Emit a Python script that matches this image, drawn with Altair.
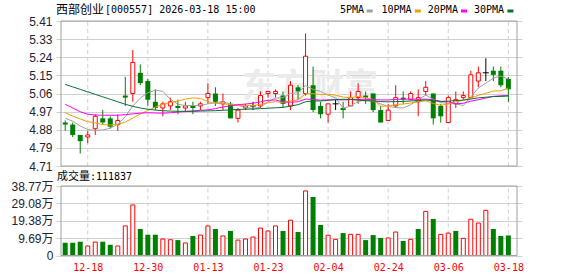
import json
import altair as alt
import pandas as pd

# ---------------- data ----------------
stock_name = "西部创业"
stock_header = "[000557] 2026-03-18 15:00"

dates = ["12-15", "12-16", "12-17", "12-18", "12-19", "12-22", "12-23", "12-24", "12-25", "12-26",
         "12-29", "12-30", "12-31", "01-05", "01-06", "01-07", "01-08", "01-09", "01-12", "01-13",
         "01-14", "01-15", "01-16", "01-19", "01-20", "01-21", "01-22", "01-23", "01-26", "01-27",
         "01-28", "01-29", "01-30", "02-02", "02-03", "02-04", "02-05", "02-06", "02-09", "02-10",
         "02-11", "02-12", "02-13", "02-24", "02-25", "02-26", "02-27", "03-02", "03-03", "03-04",
         "03-05", "03-06", "03-09", "03-10", "03-11", "03-12", "03-13", "03-16", "03-17", "03-18"]

opens = [4.92, 4.91, 4.86, 4.85, 4.89, 4.94, 4.94, 4.91, 5.05, 5.06,
         5.16, 5.12, 5.02, 4.99, 5.00, 5.00, 4.99, 5.00, 5.00, 5.04,
         5.06, 5.01, 5.01, 4.94, 4.99, 5.00, 5.00, 5.06, 5.06, 5.05,
         5.00, 5.09, 5.06, 5.10, 5.00, 4.96, 5.01, 4.99, 5.00, 5.04,
         5.05, 5.06, 4.98, 4.93, 5.00, 5.04, 5.03, 5.02, 5.07, 5.06,
         5.00, 4.92, 5.01, 5.04, 5.04, 5.12, 5.16, 5.17, 5.17, 5.13]
highs = [4.93, 4.92, 4.86, 4.88, 4.96, 4.98, 4.95, 4.96, 5.14, 5.27,
         5.20, 5.13, 5.08, 5.02, 5.04, 5.03, 5.02, 5.02, 5.02, 5.11,
         5.09, 5.06, 5.02, 4.99, 5.01, 5.02, 5.07, 5.07, 5.08, 5.07,
         5.12, 5.10, 5.35, 5.19, 5.02, 5.01, 5.03, 5.02, 5.07, 5.11,
         5.07, 5.06, 5.00, 5.01, 5.10, 5.07, 5.07, 5.08, 5.12, 5.06,
         5.01, 5.05, 5.07, 5.07, 5.17, 5.19, 5.23, 5.19, 5.19, 5.14]
lows = [4.88, 4.85, 4.77, 4.82, 4.86, 4.91, 4.89, 4.88, 5.00, 5.02,
        5.10, 5.00, 4.98, 4.95, 4.98, 4.96, 4.97, 4.96, 4.98, 5.01,
        5.00, 4.98, 4.94, 4.92, 4.98, 4.98, 4.99, 5.04, 5.04, 4.99,
        4.98, 5.03, 5.05, 4.97, 4.94, 4.92, 4.98, 4.94, 5.00, 5.01,
        5.01, 4.97, 4.92, 4.93, 4.99, 5.01, 5.03, 4.95, 5.05, 4.91,
        4.92, 4.92, 4.99, 5.03, 5.04, 5.09, 5.12, 5.12, 5.09, 5.02]
closes = [4.91, 4.86, 4.83, 4.86, 4.95, 4.92, 4.90, 4.93, 5.04, 5.21,
          5.11, 5.03, 4.99, 5.01, 5.02, 4.99, 5.00, 4.99, 5.01, 5.06,
          5.02, 5.02, 4.94, 4.98, 5.00, 5.00, 5.05, 5.07, 5.07, 5.01,
          5.10, 5.07, 5.24, 4.98, 4.96, 5.01, 5.01, 4.98, 5.04, 5.07,
          5.04, 4.98, 4.92, 4.98, 5.04, 5.03, 5.06, 5.04, 5.09, 4.94,
          4.95, 5.04, 5.03, 5.05, 5.15, 5.16, 5.16, 5.15, 5.10, 5.08]
# volume in 万手
volumes = [7.1, 7.1, 7.7, 5.3, 7.5, 7.7, 6.0, 5.3, 16.5, 28.2,
           14.8, 11.6, 11.6, 9.2, 8.8, 8.6, 7.0, 10.9, 11.4, 16.5,
           14.8, 10.9, 13.7, 8.6, 9.2, 10.3, 15.3, 13.7, 16.5, 13.7,
           19.7, 13.1, 36.0, 32.6, 17.0, 11.3, 9.0, 12.5, 11.8, 11.8,
           8.6, 11.4, 9.8, 9.8, 13.1, 8.1, 9.0, 14.8, 24.6, 20.4,
           11.8, 12.5, 13.7, 9.6, 20.2, 18.1, 25.2, 14.8, 10.9, 11.1837]

ma5 = [4.940, 4.927, 4.903, 4.886, 4.882, 4.884, 4.892, 4.912, 4.948, 5.000,
       5.038, 5.064, 5.076, 5.070, 5.032, 5.008, 5.002, 5.002, 5.002, 5.010,
       5.016, 5.020, 5.010, 5.004, 4.992, 4.988, 4.994, 5.020, 5.038, 5.040,
       5.060, 5.064, 5.098, 5.080, 5.070, 5.052, 5.040, 4.988, 5.000, 5.022,
       5.028, 5.022, 5.010, 4.998, 4.992, 4.990, 5.006, 5.030, 5.052, 5.032,
       5.016, 5.012, 5.010, 5.002, 5.044, 5.086, 5.110, 5.134, 5.144, 5.130]
ma10 = [4.967, 4.951, 4.937, 4.924, 4.918, 4.910, 4.908, 4.911, 4.922, 4.941,
        4.961, 4.978, 4.994, 5.009, 5.016, 5.023, 5.033, 5.039, 5.036, 5.021,
        5.012, 5.011, 5.006, 5.003, 5.001, 5.002, 5.007, 5.015, 5.021, 5.016,
        5.024, 5.029, 5.059, 5.059, 5.055, 5.056, 5.052, 5.043, 5.040, 5.046,
        5.040, 5.031, 4.999, 4.999, 5.007, 5.009, 5.014, 5.020, 5.025, 5.012,
        5.003, 5.009, 5.020, 5.027, 5.038, 5.051, 5.061, 5.072, 5.073, 5.087]
ma20 = [5.008, 4.990, 4.972, 4.960, 4.956, 4.955, 4.955, 4.955, 4.958, 4.962,
        4.965, 4.967, 4.966, 4.965, 4.967, 4.970, 4.973, 4.976, 4.979, 4.981,
        4.987, 4.995, 5.000, 5.006, 5.009, 5.013, 5.020, 5.027, 5.029, 5.019,
        5.018, 5.020, 5.033, 5.031, 5.028, 5.029, 5.030, 5.029, 5.031, 5.031,
        5.032, 5.030, 5.029, 5.029, 5.031, 5.033, 5.033, 5.032, 5.033, 5.029,
        5.022, 5.020, 5.010, 5.013, 5.023, 5.030, 5.038, 5.046, 5.049, 5.050]
ma30 = [5.104, 5.092, 5.080, 5.068, 5.056, 5.044, 5.032, 5.020, 5.008, 4.998,
        4.990, 4.984, 4.980, 4.977, 4.975, 4.974, 4.974, 4.974, 4.975, 4.976,
        4.977, 4.979, 4.981, 4.983, 4.984, 4.985, 4.987, 4.989, 4.991, 4.993,
        4.999, 5.006, 5.020, 5.024, 5.024, 5.027, 5.031, 5.032, 5.032, 5.028,
        5.025, 5.024, 5.021, 5.020, 5.021, 5.022, 5.024, 5.026, 5.029, 5.025,
        5.022, 5.023, 5.026, 5.028, 5.033, 5.039, 5.042, 5.045, 5.046, 5.048]

ma_names = ["5PMA", "10PMA", "20PMA", "30PMA"]
ma_colors = ["#a0a0a0", "#f0a000", "#ff00ff", "#0a6e3a"]

price_ticks = [4.71, 4.7975, 4.885, 4.9725, 5.06, 5.1475, 5.235, 5.3225, 5.41]
price_tick_labels = ["4.71", "4.79", "4.88", "4.97", "5.06", "5.15", "5.24", "5.33", "5.41"]
vol_ticks = [0, 9.6925, 19.385, 29.0775, 38.77]
vol_tick_labels = ["0", "9.69万", "19.38万", "29.08万", "38.77万"]
date_label_idx = [3, 11, 19, 27, 35, 43, 51, 59]

# ---------------- styling / layout ----------------
RED, GREEN, BLACK = "#ff0000", "#008000", "#000000"
GRID, FRAME = "#d0d0d0", "#a0a0a0"
MONO = "DejaVu Sans Mono"
CJK = "Noto Sans CJK SC"
SANS = "Liberation Sans, Noto Sans CJK SC"

X_DOMAIN = [-0.56, 60.15]
P_DOMAIN = [price_ticks[0], price_ticks[-1]]
V_DOMAIN = [vol_ticks[0], vol_ticks[-1]]
P_RANGE = [145, 0]
V_RANGE = [234.5, 165]

n = len(closes)
prev_close = [opens[0]] + closes[:-1]
df = pd.DataFrame({
    "i": list(range(n)), "date": dates, "open": opens, "high": highs,
    "low": lows, "close": closes, "vol": volumes,
    "vdir": ["up" if c >= p else "down" for c, p in zip(closes, prev_close)],
})
ma_df = pd.concat([
    pd.DataFrame({"i": list(range(n)), "ma": name, "value": vals})
    for name, vals in zip(ma_names, [ma5, ma10, ma20, ma30])
])

xs = alt.Scale(domain=X_DOMAIN, nice=False, zero=False)
ps = alt.Scale(domain=P_DOMAIN, range=P_RANGE, nice=False, zero=False)
vs = alt.Scale(domain=V_DOMAIN, range=V_RANGE, nice=False, zero=False)

step_p = (price_ticks[-1] - price_ticks[0]) / (len(price_ticks) - 1)
price_axis = alt.Axis(
    values=price_ticks, orient="left", title=None, domain=False, ticks=False,
    grid=True, gridColor=GRID, gridWidth=1, labelPadding=4, labelFlush=False,
    labelOverlap=False, labelFont=SANS, labelFontSize=12, labelColor="#222233",
    labelExpr=f"{json.dumps(price_tick_labels)}[round((datum.value - {price_ticks[0]}) / {step_p})]",
)
step_v = (vol_ticks[-1] - vol_ticks[0]) / (len(vol_ticks) - 1)
vol_axis = alt.Axis(
    values=vol_ticks, orient="left", title=None, domain=False, ticks=False,
    grid=True, gridColor=GRID, gridWidth=1, labelPadding=3, labelFlush=False,
    labelOverlap=False, labelFont=SANS, labelFontSize=12, labelColor="#222233",
    labelExpr=f"{json.dumps(vol_tick_labels, ensure_ascii=False)}[round(datum.value / {step_v})]",
)
x_axis = alt.Axis(
    values=date_label_idx, orient="bottom", title=None, domain=False, ticks=False, grid=False,
    labelPadding=6, labelFlush=False, labelOverlap=False, labelFont=MONO,
    labelFontSize=10, labelColor=RED,
    labelExpr=f"{json.dumps(dates)}[datum.value]",
)


def X(field="i"):
    return alt.X(f"{field}:Q", scale=xs, axis=x_axis)


def PY(field):
    return alt.Y(f"{field}:Q", scale=ps, axis=price_axis)


def VY(field):
    return alt.Y(f"{field}:Q", scale=vs, axis=vol_axis)


base = alt.Chart(df)
grid_df = pd.DataFrame({"i": date_label_idx,
                        "p0": P_DOMAIN[0], "p1": P_DOMAIN[1],
                        "v0": V_DOMAIN[0], "v1": V_DOMAIN[1]})
frame_df = pd.DataFrame({"x0": [X_DOMAIN[0]], "x1": [X_DOMAIN[1]],
                         "p0": [P_DOMAIN[0]], "p1": [P_DOMAIN[1]],
                         "v0": [V_DOMAIN[0]], "v1": [V_DOMAIN[1]]})

# ---------------- price panel ----------------
p_layers = []
p_layers.append(
    alt.Chart(grid_df).mark_rule(color=GRID, strokeDash=[4, 3], strokeWidth=1).encode(
        x=X(), y=PY("p0"), y2="p1:Q")
)
p_layers.append(
    alt.Chart(pd.DataFrame({"t": ["东方财富"]})).mark_text(
        fontSize=34, font=CJK, fontWeight="bold", color="#ebebeb", align="center", baseline="middle"
    ).encode(x=alt.value(254), y=alt.value(67), text="t:N")
)
for cond, col in [("datum.close > datum.open", RED), ("datum.close < datum.open", GREEN),
                  ("datum.close == datum.open", BLACK)]:
    p_layers.append(base.transform_filter(cond).mark_rule(color=col, strokeWidth=1).encode(
        x=X(), y=PY("low"), y2="high:Q"))
p_layers.append(base.transform_filter("datum.close < datum.open").mark_bar(size=5, color=GREEN).encode(
    x=X(), y=PY("open"), y2="close:Q"))
p_layers.append(base.transform_filter("datum.close > datum.open").mark_bar(
    size=4, fill="white", stroke=RED, strokeWidth=1).encode(
    x=X(), y=PY("open"), y2="close:Q"))
p_layers.append(base.transform_filter("datum.close == datum.open").mark_rule(
    color=BLACK, strokeWidth=1, xOffset=-3, x2Offset=3).encode(
    x=X(), x2="i:Q", y=PY("close")))
for name, col in zip(ma_names, ma_colors):
    p_layers.append(alt.Chart(ma_df).transform_filter(alt.datum.ma == name).mark_line(
        color=col, strokeWidth=1).encode(x=X(), y=PY("value"), order="i:Q"))
p_layers.append(alt.Chart(frame_df).mark_rect(fillOpacity=0, stroke=FRAME, strokeWidth=1).encode(
    x=X("x0"), x2="x1:Q", y=PY("p0"), y2="p1:Q"))
price = alt.layer(*p_layers)

# ---------------- volume panel ----------------
v_layers = []
v_layers.append(alt.Chart(grid_df).mark_rule(color=GRID, strokeDash=[4, 3], strokeWidth=1).encode(
    x=X(), y=VY("v0"), y2="v1:Q"))
v_layers.append(base.transform_filter("datum.vdir == 'down'").mark_bar(size=5, color=GREEN).encode(
    x=X(), y=VY("vol")))
v_layers.append(base.transform_filter("datum.vdir == 'up'").mark_bar(
    size=4, fill="white", stroke=RED, strokeWidth=1).encode(x=X(), y=VY("vol")))
v_layers.append(alt.Chart(frame_df).mark_rect(fillOpacity=0, stroke=FRAME, strokeWidth=1).encode(
    x=X("x0"), x2="x1:Q", y=VY("v0"), y2="v1:Q"))
volume = alt.layer(*v_layers)


# ---------------- header texts ----------------
def text_layer(txt, x, y, font, size, color="#000000"):
    return alt.Chart(pd.DataFrame({"t": [txt]})).mark_text(
        align="left", baseline="middle", font=font, fontSize=size, color=color
    ).encode(x=alt.value(x), y=alt.value(y), text="t:N")


ann = [
    text_layer(stock_name, 0, -11.5, CJK, 12),
    text_layer(stock_header, 49, -11.5, MONO, 10),
    text_layer("成交量", 1, 155.5, CJK, 11),
    text_layer(":" + str(round(volumes[-1] * 10000)), 34, 155.5, MONO, 10),
]
leg_text_x = [284, 325.5, 371.8, 418]
leg_mark_x = [310.7, 358.8, 405, 451.4]
for name, col, tx, mx in zip(ma_names, ma_colors, leg_text_x, leg_mark_x):
    ann.append(text_layer(name, tx, -11.5, MONO, 10))
    ann.append(alt.Chart(pd.DataFrame({"t": [name]})).mark_rect(color=col).encode(
        x=alt.value(mx), x2=alt.value(mx + 6), y=alt.value(-11.5), y2=alt.value(-8.5)))

chart = alt.layer(price, volume, *ann).resolve_scale(y="independent").properties(
    width=466, height=235,
    padding={"left": 56, "top": 21, "right": 56, "bottom": 20},
    autosize=alt.AutoSizeParams(type="none"),
    background="white",
).configure_view(stroke=None)

chart.save("out.html", embed_options={"renderer": "svg", "actions": False})
